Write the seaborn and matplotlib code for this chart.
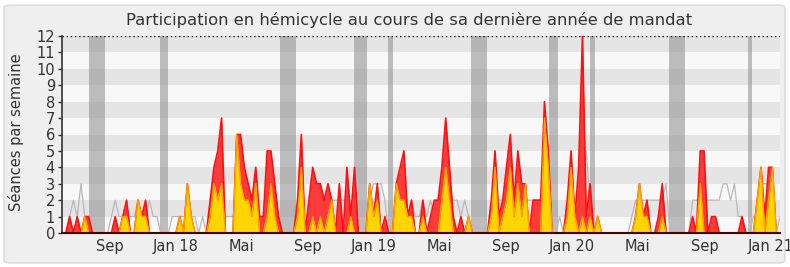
import matplotlib
matplotlib.use("Agg")
import matplotlib.pyplot as plt
from matplotlib.patches import FancyBboxPatch
import pandas as pd
import seaborn as sns

# ---------------- data ----------------
start_week = "2017-06-05"

seances_total = [
    0, 0, 1, 0, 1, 0, 1, 1, 0, 0,
    0, 0, 0, 0, 1, 0, 1, 2, 0, 0,
    2, 1, 2, 0, 0, 0, 0, 0, 0, 0,
    0, 1, 0, 3, 1, 0, 0, 0, 0, 2,
    4, 5, 7, 0, 0, 0, 6, 6, 4, 3,
    2, 4, 1, 1, 5, 5, 3, 1, 0, 0,
    0, 0, 2, 6, 0, 2, 4, 3, 3, 2,
    3, 2, 0, 3, 0, 4, 1, 4, 0, 0,
    0, 3, 1, 3, 0, 1, 0, 0, 3, 4,
    5, 1, 2, 0, 0, 2, 0, 1, 2, 2,
    4, 7, 4, 1, 0, 1, 0, 1, 0, 0,
    0, 0, 0, 2, 5, 1, 2, 4, 6, 2,
    5, 3, 3, 0, 2, 2, 2, 8, 5, 0,
    0, 0, 0, 2, 5, 1, 4, 12, 1, 3,
    0, 1, 0, 0, 0, 0, 0, 0, 0, 0,
    0, 1, 3, 1, 2, 0, 0, 1, 3, 0,
    0, 0, 0, 0, 0, 0, 1, 0, 5, 5,
    0, 1, 1, 0, 0, 0, 0, 0, 0, 1,
    0, 0, 0, 2, 4, 1, 4, 4, 0, 0,
]

seances_interventions = [
    0, 0, 0, 0, 0, 0, 1, 0, 0, 0,
    0, 0, 0, 0, 0, 0, 1, 1, 0, 0,
    2, 1, 1, 0, 0, 0, 0, 0, 0, 0,
    0, 1, 0, 3, 1, 0, 0, 0, 0, 1,
    3, 2, 3, 0, 0, 0, 6, 3, 2, 2,
    1, 3, 0, 0, 1, 3, 1, 0, 0, 0,
    0, 0, 1, 4, 0, 0, 1, 0, 1, 0,
    1, 2, 0, 0, 0, 0, 1, 0, 0, 0,
    0, 3, 1, 2, 0, 0, 0, 0, 3, 2,
    2, 1, 1, 0, 0, 1, 0, 0, 0, 0,
    2, 4, 2, 0, 0, 0, 0, 1, 0, 0,
    0, 0, 0, 1, 4, 0, 1, 2, 4, 1,
    3, 1, 3, 0, 0, 0, 0, 7, 4, 0,
    0, 0, 0, 1, 4, 1, 0, 1, 0, 1,
    0, 1, 0, 0, 0, 0, 0, 0, 0, 0,
    0, 1, 3, 1, 1, 0, 0, 0, 1, 0,
    0, 0, 0, 0, 0, 0, 0, 0, 3, 0,
    0, 0, 0, 0, 0, 0, 0, 0, 0, 0,
    0, 0, 0, 2, 4, 0, 2, 4, 0, 0,
]

mediane_deputes = [
    0, 0, 1, 2, 1, 3, 1, 1, 0, 0,
    0, 0, 0, 1, 2, 1, 1, 1, 1, 1,
    2, 1, 1, 2, 1, 1, 0, 0, 0, 1,
    1, 1, 1, 1, 1, 1, 0, 1, 0, 1,
    1, 1, 1, 1, 1, 1, 2, 3, 3, 3,
    2, 2, 1, 1, 2, 2, 2, 1, 0, 0,
    0, 0, 1, 1, 0, 2, 2, 2, 3, 2,
    2, 2, 2, 2, 2, 2, 2, 1, 0, 0,
    0, 2, 3, 3, 3, 2, 0, 0, 2, 2,
    2, 1, 2, 1, 1, 2, 1, 2, 1, 2,
    2, 2, 2, 2, 2, 1, 2, 1, 0, 0,
    0, 0, 0, 1, 2, 2, 2, 2, 2, 2,
    2, 2, 2, 2, 2, 2, 2, 2, 1, 0,
    0, 1, 0, 1, 1, 1, 1, 2, 5, 2,
    0, 0, 0, 0, 0, 0, 0, 0, 0, 0,
    1, 2, 2, 2, 2, 2, 2, 2, 2, 3,
    0, 0, 0, 0, 0, 0, 2, 2, 2, 2,
    2, 2, 2, 2, 3, 3, 2, 3, 1, 1,
    0, 0, 1, 1, 3, 3, 3, 2, 0, 1,
]

vacances_debut = ["2017-07-25", "2017-12-03", "2018-07-12", "2018-11-25", "2019-01-27",
                  "2019-06-29", "2019-11-20", "2020-02-03", "2020-06-27", "2020-11-20"]
vacances_fin = ["2017-08-24", "2017-12-18", "2018-08-11", "2018-12-19", "2019-02-05",
                "2019-07-28", "2019-12-06", "2020-02-12", "2020-07-27", "2020-11-27"]

tick_dates = ["2017-09-01", "2018-01-01", "2018-05-01", "2018-09-01", "2019-01-01",
              "2019-05-01", "2019-09-01", "2020-01-01", "2020-05-01", "2020-09-01",
              "2021-01-01"]
tick_labels = ["Sep", "Jan 18", "Mai", "Sep", "Jan 19", "Mai", "Sep", "Jan 20",
               "Mai", "Sep", "Jan 21"]

title = "Participation en hémicycle au cours de sa dernière année de mandat"
ylabel = "Séances par semaine"

# ---------------- figure ----------------
sns.set_theme(style="white")
plt.rcParams["font.family"] = ["DejaVu Sans"]

W, H = 790, 267
fig = plt.figure(figsize=(W / 100, H / 100), dpi=100)
fig.patch.set_facecolor("white")
frame = FancyBboxPatch((4 / W, 4 / H), (W - 9) / W, (H - 9) / H,
                       boxstyle="round,pad=0,rounding_size=0.01",
                       transform=fig.transFigure, facecolor="#efefef",
                       edgecolor="#d9d9d9", linewidth=1.0, zorder=-10)
fig.patches.append(frame)

ax = fig.add_axes([62 / W, (H - 233) / H, (780 - 62) / W, (233 - 36) / H])
ax.set_facecolor("#f8f8f8")

df = pd.DataFrame({
    "semaine": pd.date_range(start_week, periods=len(seances_total), freq="7D"),
    "total": seances_total,
    "interventions": seances_interventions,
    "mediane": mediane_deputes,
})

# alternating horizontal bands
for lo in range(1, 12, 2):
    ax.axhspan(lo, lo + 1, color="#e5e5e5", lw=0, zorder=0)

# holiday bands
for d0, d1 in zip(vacances_debut, vacances_fin):
    ax.axvspan(pd.Timestamp(d0), pd.Timestamp(d1), color="#8c8c8c", alpha=0.55,
               lw=0, zorder=1)

# median line (behind areas)
sns.lineplot(data=df, x="semaine", y="mediane", color="#b8b8b8", lw=0.9,
             ax=ax, zorder=2)

# red area: total
ax.fill_between(df["semaine"], 0, df["total"], color="#ff3a3a", lw=0, zorder=3)
sns.lineplot(data=df, x="semaine", y="total", color="#ff1010", lw=1.2,
             ax=ax, zorder=4)
# yellow area
ax.fill_between(df["semaine"], 0, df["interventions"], color="#ffd500", lw=0, zorder=5)
sns.lineplot(data=df, x="semaine", y="interventions", color="#ffa200", lw=1.0,
             ax=ax, zorder=6)

ax.axhline(12, color="black", lw=1.0, ls=(0, (1, 2)), zorder=7)

ax.set_xlim(df["semaine"].iloc[0], df["semaine"].iloc[-1])
ax.set_ylim(0, 12)
ax.set_yticks(range(0, 13))
ax.set_xticks([pd.Timestamp(t) for t in tick_dates])
ax.set_xticklabels(tick_labels)
ax.set_xlabel("")
ax.set_ylabel("")

for s in ["top", "right"]:
    ax.spines[s].set_visible(False)
ax.spines["left"].set_color("#333333")
ax.spines["left"].set_linewidth(1.2)
ax.spines["bottom"].set_color("#4a0000")
ax.spines["bottom"].set_linewidth(1.5)
ax.spines["left"].set_zorder(8)
ax.spines["bottom"].set_zorder(8)

ax.tick_params(axis="y", which="major", length=3, width=1, color="#333333",
               labelsize=10.5, labelcolor="#333333", pad=2, left=True)
ax.tick_params(axis="x", which="major", length=0, labelsize=10.5,
               labelcolor="#333333", pad=4)

fig.text(409 / W, 1 - 20 / H, title, ha="center", va="center",
         fontsize=11.8, color="#333333")
fig.text(16 / W, 1 - 132 / H, ylabel, ha="center", va="center", rotation=90,
         fontsize=10.5, color="#333333")

fig.savefig("out.png", dpi=100, facecolor=fig.get_facecolor())
